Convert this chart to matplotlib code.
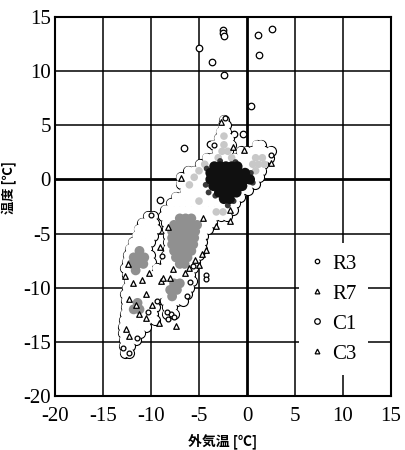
import matplotlib
matplotlib.use("Agg")
import matplotlib.pyplot as plt
from matplotlib.lines import Line2D

# ---------------- data ----------------
ticks = [-20, -15, -10, -5, 0, 5, 10, 15]
tick_labels = ["-20", "-15", "-10", "-5", "0", "5", "10", "15"]
series_names = ["R3", "R7", "C1", "C3"]

# C1 : dense cloud of open circles, listed row by row (y, [x ...])
c1_rows = [
    (5.5, [-2.4]),
    (5.0, [-2.55, -2.2]),
    (4.4, [-2.75, -2.15]),
    (3.8, [-2.95, -2.35, -1.85]),
    (3.2, [-3.45, -2.85, -2.25, -1.65, 1.0, 1.45]),
    (2.6, [-3.15, -2.55, -1.95, -0.65, -0.05, 0.55, 1.15, 1.75, 2.45]),
    (2.0, [-4.2, -3.6, -3.0, -2.4, -1.8, -1.3, -0.7, -0.1, 0.5, 1.1, 1.7, 2.3]),
    (1.4, [-4.9, -4.3, -3.7, -3.1, -2.5, -1.9, -1.3, -0.7, -0.1, 0.5, 1.1, 1.7]),
    (0.8, [-6.1, -5.5, -4.9, -4.3, -3.7, -3.1, -2.5, -1.9, -1.3, -0.7, -0.1, 0.5, 1.1, 1.5]),
    (0.2, [-6.9, -6.3, -5.7, -5.1, -4.5, -3.9, -3.3, -2.7, -2.1, -1.5, -0.9, -0.3, 0.3, 0.9, 1.3]),
    (-0.4, [-6.9, -6.3, -5.7, -5.1, -4.5, -3.9, -3.3, -2.7, -2.1, -1.5, -0.9, -0.3, 0.3, 0.8]),
    (-1.0, [-6.5, -5.9, -5.3, -4.7, -4.1, -3.5, -2.9, -2.3, -1.7, -1.1, -0.5, 0.1]),
    (-1.6, [-7.4, -6.8, -6.2, -5.6, -5.0, -4.4, -3.8, -3.2, -2.6, -2.0, -1.4, -0.7]),
    (-2.2, [-7.9, -7.3, -6.7, -6.1, -5.5, -4.9, -4.3, -3.7, -3.1, -2.5, -1.9, -1.2]),
    (-2.8, [-8.5, -7.9, -7.3, -6.7, -6.1, -5.5, -4.9, -4.3, -3.7, -3.1, -2.5, -1.9, -1.5]),
    (-3.4, [-10.3, -9.8, -8.7, -8.1, -7.5, -6.9, -6.3, -5.7, -5.1, -4.5, -3.9, -3.3, -2.7, -2.1]),
    (-4.0, [-10.9, -10.3, -9.7, -8.4, -7.8, -7.2, -6.6, -6.0, -5.4, -4.8, -4.2, -3.6]),
    (-4.6, [-11.3, -10.7, -10.1, -9.5, -8.3, -7.7, -7.1, -6.5, -5.9, -5.3, -4.7, -4.1]),
    (-5.2, [-11.5, -10.9, -10.3, -9.8, -8.2, -7.6, -7.0, -6.4, -5.8, -5.2, -4.6]),
    (-5.8, [-11.9, -11.3, -10.7, -10.1, -8.2, -7.6, -7.0, -6.4, -5.8, -5.2, -4.7]),
    (-6.4, [-12.2, -11.6, -11.0, -10.4, -8.2, -7.6, -7.0, -6.4, -5.8, -5.2, -4.7]),
    (-7.0, [-12.4, -11.8, -11.2, -10.6, -10.1, -8.4, -7.8, -7.2, -6.6, -6.0, -5.4, -5.0]),
    (-7.6, [-12.5, -11.9, -11.3, -10.7, -10.0, -8.5, -7.9, -7.3, -6.7, -6.1, -5.4]),
    (-8.2, [-12.7, -12.1, -11.5, -10.9, -10.3, -9.4, -8.7, -8.1, -7.5, -6.9, -6.3, -5.6]),
    (-8.8, [-12.5, -11.9, -11.3, -10.7, -10.1, -9.5, -8.9, -8.3, -7.7, -7.1, -6.5, -5.9]),
    (-9.4, [-12.3, -11.7, -11.1, -10.5, -9.9, -9.3, -8.7, -8.1, -7.5, -6.9, -6.3, -5.7]),
    (-10.0, [-12.5, -11.9, -11.3, -10.7, -10.1, -9.5, -8.9, -8.3, -7.7, -7.1, -6.5, -6.0]),
    (-10.6, [-12.7, -12.1, -11.5, -10.9, -10.3, -9.7, -9.1, -8.5, -7.9, -7.3, -6.7, -6.3]),
    (-11.2, [-12.6, -12.0, -11.4, -10.8, -10.2, -9.5, -8.5, -7.9, -7.3, -6.7]),
    (-11.8, [-12.6, -12.0, -11.4, -10.8, -10.2, -9.6, -8.3, -7.8]),
    (-12.4, [-12.7, -12.1, -11.5, -10.9, -10.3, -9.8, -8.3, -7.6]),
    (-13.0, [-12.8, -12.2, -11.6, -11.0, -10.4, -9.6]),
    (-13.6, [-12.9, -12.3, -11.7, -11.1, -10.5]),
    (-14.2, [-12.9, -12.3, -11.7, -11.1]),
    (-14.8, [-12.8, -12.2, -11.6]),
    (-15.4, [-12.8, -12.2]),
    (-16.0, [-12.7, -12.3]),
]
# C1 isolated points
c1_out_x = [-2.5, -2.5, -2.4, -5.0, -3.6, -2.4, 1.1, 2.6, 1.2, 0.4, -1.4, -0.4, -6.6, -3.9, -9.1]
c1_out_y = [13.8, 13.5, 13.2, 12.1, 10.8, 9.6, 13.3, 13.9, 11.5, 6.8, 4.2, 4.2, 2.9, 3.3, -1.9]

# C3 : dense grey (overlapping) points
c3_x = [-7.0, -6.4, -5.8,
        -7.6, -7.0, -6.4, -5.8, -5.2,
        -7.8, -7.2, -6.6, -6.0, -5.4,
        -7.8, -7.2, -6.6, -6.0, -5.5,
        -7.8, -7.2, -6.6, -6.0, -5.6,
        -7.6, -7.0, -6.4, -5.8,
        -7.4, -6.8, -6.2,
        -7.0, -6.5,
        -11.2, -11.8, -11.2, -10.7, -12.0, -11.4, -10.8, -11.6,
        -7.6, -7.0, -8.0, -7.3, -7.8, -11.4, -11.8, -11.2]
c3_y = [-3.6, -3.6, -3.6,
        -4.2, -4.2, -4.2, -4.2, -4.2,
        -4.8, -4.8, -4.8, -4.8, -4.8,
        -5.4, -5.4, -5.4, -5.4, -5.4,
        -6.0, -6.0, -6.0, -6.0, -6.0,
        -6.6, -6.6, -6.6, -6.6,
        -7.2, -7.2, -7.2,
        -7.8, -7.8,
        -6.6, -7.2, -7.2, -7.2, -7.8, -7.8, -7.8, -8.4,
        -9.6, -9.6, -10.2, -10.2, -10.8, -11.4, -12.0, -12.0]
# light grey part of C3 in the upper cloud
c3l_x = [-2.4, -2.4, -2.6, -2.0, -3.0, -1.6, 0.9, 1.6, 0.6, 1.2, 1.8, -5.0, 0.9,
         -5.5, -5.0, -3.2, -2.5, -4.4, -6.0]
c3l_y = [4.0, 3.2, 2.6, 2.6, 2.0, 2.0, 2.0, 2.0, 1.4, 1.4, 1.4, 0.8, 0.8,
         0.2, -2.0, -3.0, -3.0, 1.4, -0.5]

# R7 : dense dark core around (-2, 0)
r7_core_rows = [
    (1.2, [-3.4, -2.8, -2.2, -1.6, -1.0]),
    (0.6, [-3.8, -3.2, -2.6, -2.0, -1.4, -0.8, -0.2]),
    (0.0, [-3.8, -3.2, -2.6, -2.0, -1.4, -0.8, -0.2, 0.3]),
    (-0.6, [-3.5, -2.9, -2.3, -1.7, -1.1, -0.5]),
    (-1.2, [-2.9, -2.3, -1.7, -1.1]),
    (-1.8, [-2.4, -1.8]),
]
r7_fringe_x = [-4.2, -4.3, 0.4, -2.0, -2.8, -4.0, -1.2, 0.6, -3.3, -1.4]
r7_fringe_y = [1.0, -0.5, 0.6, -2.4, 1.7, -1.2, 1.6, -0.3, -1.5, -2.0]

# open triangles (R7 / C3 edge points)
tri_x = [-2.7, -1.5, -0.3, 2.45, -1.8, -1.75, -3.2, -4.25, -5.05, -9.1, -12.7, -10.9,
         -8.0, -10.5, -9.2, -7.4, -12.6, -12.3, -11.6, -6.9, -9.0, -8.7, -6.5, -6.0,
         -5.4, -4.7, -9.9, -11.2, -12.3, -10.5, -8.2, -4.6, -7.7, -12.4, -11.9, -10.2]
tri_y = [5.3, 3.0, 2.7, 1.5, -2.8, -3.8, -4.3, -6.5, -7.9, -6.2, -8.9, -9.3,
         -9.1, -10.6, -13.3, -13.5, -13.8, -11.0, -11.6, 0.1, -9.4, -9.1, -8.6, -8.2,
         -7.4, -6.9, -11.6, -12.4, -14.5, -12.8, -4.4, -3.6, -8.3, -7.8, -9.6, -8.6]

# R3 : small open circles
r3_x = [-4.25, -4.25, -7.9, -8.3, -7.6, -8.2, -9.4, -10.3, -12.3, -12.9, -8.9, -5.6,
        -5.9, -10.0, -3.4, -2.3, 2.5, -11.5, -6.3]
r3_y = [-8.8, -9.2, -12.4, -12.2, -12.7, -12.9, -11.2, -12.2, -16.0, -15.6, -7.1, -8.0,
        -9.5, -3.3, 3.2, 5.7, 2.3, -14.6, -10.8]

# ---------------- build ----------------
c1_x = [x for y, xs in c1_rows for x in xs]
c1_y = [y for y, xs in c1_rows for x in xs]
core_x = [x for y, xs in r7_core_rows for x in xs]
core_y = [y for y, xs in r7_core_rows for x in xs]

fig = plt.figure(figsize=(4.06, 4.50), dpi=100)
ax = fig.add_axes([55 / 406, 54 / 450, 336 / 406, 379 / 450])
ax.set_xlim(-20, 15)
ax.set_ylim(-20, 15)

# grid
for t in ticks[1:-1]:
    lw = 2.0 if t == 0 else 1.1
    ax.axvline(t, color="black", lw=lw, zorder=0.5)
    ax.axhline(t, color="black", lw=lw, zorder=0.5)

# C1 cloud: outline layer then white interior layer (gives blob outlines)
s_out, lw_c = 52, 0.8
s_in = (s_out ** 0.5 - lw_c) ** 2
ax.scatter(c1_x, c1_y, s=s_out, facecolor="white", edgecolor="black", linewidths=lw_c, zorder=2)
ax.scatter(c1_out_x, c1_out_y, s=22, facecolor="white", edgecolor="black", linewidths=0.9, zorder=2)
ax.scatter(c1_x, c1_y, s=s_in, facecolor="white", edgecolor="none", zorder=2.1)

# grey C3 masses
ax.scatter(c3l_x, c3l_y, s=30, color="#c8c8c8", edgecolor="none", zorder=2.5)
ax.scatter(c3_x, c3_y, s=50, color="#909090", edgecolor="none", zorder=2.6)

# dark core
ax.scatter(r7_fringe_x, r7_fringe_y, s=18, color="#3a3a3a", edgecolor="none", zorder=2.8)
ax.scatter(core_x, core_y, s=55, color="#101010", edgecolor="none", zorder=2.9)

# open triangles and small circles
ax.scatter(tri_x, tri_y, s=16, marker="^", facecolor="white", edgecolor="black", linewidths=0.9, zorder=4)
ax.scatter(r3_x, r3_y, s=12, marker="o", facecolor="white", edgecolor="black", linewidths=0.9, zorder=4)

# axes styling
for sp in ax.spines.values():
    sp.set_linewidth(1.5)
ax.set_xticks(ticks, tick_labels, fontsize=15, family="Liberation Serif")
ax.set_yticks(ticks, tick_labels, fontsize=15, family="Liberation Serif")
ax.tick_params(axis="both", length=0)
ax.tick_params(axis="x", pad=8)
ax.tick_params(axis="y", pad=3)

cjk = ["Noto Sans CJK JP", "DejaVu Sans"]
ax.set_xlabel("外気温 [℃]", family=cjk, fontsize=10, fontweight="bold", labelpad=5)
ax.set_ylabel("温度 [℃]", family=cjk, fontsize=9.5, fontweight="bold")
ax.yaxis.set_label_coords(-0.112, 0.55)

# legend
mk = dict(linestyle="none", markerfacecolor="white", markeredgecolor="black", markeredgewidth=0.9)
handles = [
    Line2D([], [], marker="o", markersize=3.2, **mk),
    Line2D([], [], marker="^", markersize=3.4, **mk),
    Line2D([], [], marker="o", markersize=4.0, **mk),
    Line2D([], [], marker="^", markersize=3.4, **mk),
]
leg = ax.legend(handles, series_names, loc="upper left", bbox_to_anchor=(0.726, 0.405),
                borderaxespad=0, frameon=True, fancybox=False, framealpha=1,
                facecolor="white", edgecolor="none",
                prop={"family": "Liberation Serif", "size": 15},
                handlelength=0.6, handletextpad=0.45, labelspacing=0.5, borderpad=0.55)
leg.set_zorder(10)

fig.savefig("out.png", dpi=100)
